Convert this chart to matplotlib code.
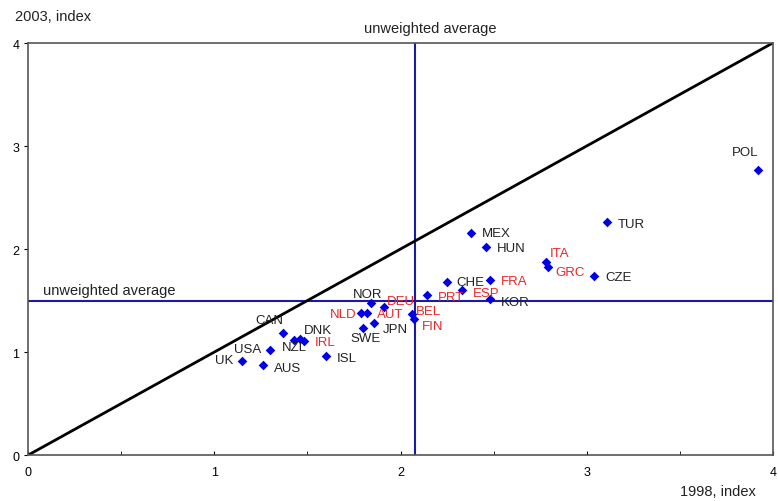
import matplotlib
matplotlib.use("Agg")
import matplotlib.pyplot as plt

countries = ["POL", "TUR", "MEX", "HUN", "ITA", "GRC", "CZE", "CHE", "FRA", "ESP",
             "PRT", "KOR", "NOR", "DEU", "NLD", "AUT", "JPN", "SWE", "BEL", "FIN",
             "CAN", "DNK", "NZL", "IRL", "USA", "UK", "AUS", "ISL"]
x1998 = [3.92, 3.11, 2.38, 2.46, 2.78, 2.79, 3.04, 2.25, 2.48, 2.33,
         2.14, 2.48, 1.84, 1.91, 1.79, 1.82, 1.86, 1.80, 2.06, 2.07,
         1.37, 1.46, 1.43, 1.48, 1.30, 1.15, 1.26, 1.60]
y2003 = [2.77, 2.26, 2.16, 2.02, 1.87, 1.83, 1.74, 1.68, 1.70, 1.60,
         1.55, 1.51, 1.48, 1.44, 1.38, 1.38, 1.28, 1.23, 1.37, 1.32,
         1.18, 1.13, 1.12, 1.11, 1.02, 0.91, 0.87, 0.96]
euro = {"ITA", "GRC", "FRA", "ESP", "PRT", "DEU", "NLD", "AUT", "BEL", "FIN", "IRL"}
avg_x = 2.08
avg_y = 1.50
ticks = [0, 1, 2, 3, 4]

# label offsets in points (layout only)
offsets = {
    "POL": (-19, 13), "TUR": (8, -1), "MEX": (8, 0), "HUN": (8, -1), "ITA": (3, 7),
    "GRC": (6, -4), "CZE": (8, -1), "CHE": (7, 0), "FRA": (8, -1), "ESP": (8, -2),
    "PRT": (8, -1), "KOR": (8, -2), "NOR": (-13, 6), "DEU": (2, 4), "NLD": (-23, -1),
    "AUT": (7, -1), "JPN": (6, -4), "SWE": (-9, -7), "BEL": (3, 2), "FIN": (6, -5),
    "CAN": (-20, 10), "DNK": (3, 6), "NZL": (-9, -5), "IRL": (8, -1), "USA": (-26, 1),
    "UK": (-20, 1), "AUS": (8, -2), "ISL": (8, -1),
}

plt.rcParams["font.family"] = ["Liberation Sans", "DejaVu Sans"]
fig = plt.figure(figsize=(7.78, 5.02), dpi=100)
ax = fig.add_axes([0.0364, 0.0916, 0.9568, 0.8207])
ax.set_xlim(0, 4)
ax.set_ylim(0, 4)

ax.plot([0, 4], [0, 4], color="black", lw=2, zorder=2)
ax.axvline(avg_x, color="#1a1aa8", lw=1.5, zorder=1)
ax.axhline(avg_y, color="#1a1aa8", lw=1.5, zorder=1)

ax.scatter(x1998, y2003, marker="D", s=24, color="#0000e6", zorder=3, linewidths=0)
for c, xv, yv in zip(countries, x1998, y2003):
    dx, dy = offsets[c]
    ax.annotate(c, (xv, yv), xytext=(dx, dy), textcoords="offset points",
                fontsize=9.5, color="#e8262a" if c in euro else "#222222",
                ha="left", va="center", zorder=4)

ax.set_xticks(ticks)
ax.set_yticks(ticks)
ax.set_xticks([0.5, 1.5, 2.5, 3.5], minor=True)
ax.tick_params(axis="x", which="both", direction="in", length=3, labelsize=9, pad=8)
ax.tick_params(axis="y", which="both", direction="out", length=3, labelsize=9)
for s in ax.spines.values():
    s.set_color("#555555")
    s.set_linewidth(1.2)

fig.text(0.0193, 0.966, "2003, index", fontsize=10.5, ha="left", va="center", color="#222222")
fig.text(0.971, 0.02, "1998, index", fontsize=10.5, ha="right", va="center", color="#222222")
ax.text(2.16, 4.08, "unweighted average", fontsize=10.5, ha="center", va="bottom", color="#222222")
ax.text(0.079, avg_y + 0.035, "unweighted average", fontsize=10.5, ha="left", va="bottom", color="#222222")

fig.savefig("out.png", dpi=100)
